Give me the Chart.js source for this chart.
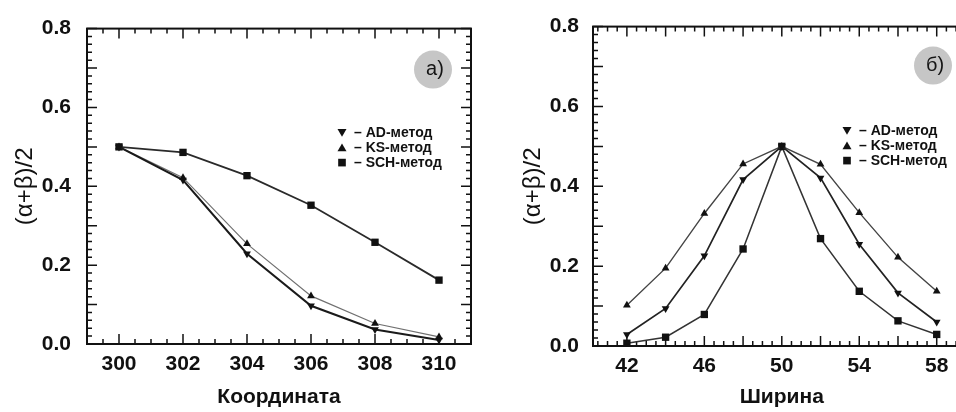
<!DOCTYPE html>
<html>
<head>
  <title>Сравнение методов</title>
  <script src="https://cdn.jsdelivr.net/npm/chart.js"></script>
  <style>
    html, body { margin: 0; padding: 0; background: #fff; overflow: hidden; }
    body { width: 956px; height: 412px; position: relative; }
    #chartA { position: absolute; left: 0; top: 0; }
    #chartB { position: absolute; left: 480px; top: 0; }
  </style>
</head>
<body>
  <canvas id="chartA" width="480" height="412"></canvas>
  <canvas id="chartB" width="500" height="412"></canvas>

  <script>
    // panel a) - Координата
    var coordX = [300, 302, 304, 306, 308, 310];
    var coordAD = [0.50, 0.416, 0.229, 0.097, 0.037, 0.010];
    var coordKS = [0.50, 0.422, 0.254, 0.122, 0.052, 0.018];
    var coordSCH = [0.50, 0.486, 0.427, 0.352, 0.258, 0.162];
    var coordTicks = [300, 302, 304, 306, 308, 310];

    // panel б) - Ширина
    var widthX = [42, 44, 46, 48, 50, 52, 54, 56, 58];
    var widthAD = [0.029, 0.094, 0.226, 0.417, 0.50, 0.421, 0.255, 0.133, 0.060];
    var widthKS = [0.102, 0.195, 0.332, 0.456, 0.50, 0.455, 0.334, 0.222, 0.137];
    var widthSCH = [0.007, 0.022, 0.079, 0.243, 0.50, 0.269, 0.137, 0.063, 0.029];
    var widthTicks = [42, 46, 50, 54, 58];

    var yTicks = [0, 0.2, 0.4, 0.6, 0.8];
    var methodNames = ['AD-метод', 'KS-метод', 'SCH-метод'];

    var FONT = "'Liberation Sans', Arial, sans-serif";

    function drawMarker(ctx, style, x, y, r) {
      ctx.beginPath();
      if (style === 'down') {
        ctx.moveTo(x - r, y - r * 0.8);
        ctx.lineTo(x + r, y - r * 0.8);
        ctx.lineTo(x, y + r * 0.9);
      } else if (style === 'up') {
        ctx.moveTo(x - r, y + r * 0.8);
        ctx.lineTo(x + r, y + r * 0.8);
        ctx.lineTo(x, y - r * 0.9);
      } else {
        ctx.rect(x - r * 0.85, y - r * 0.85, r * 1.7, r * 1.7);
      }
      ctx.closePath();
      ctx.fill();
    }

    var framePlugin = {
      id: 'frame',
      beforeDatasetsDraw: function(chart, args, opts) {
        var ctx = chart.ctx, a = chart.chartArea;
        var x = chart.scales.x, y = chart.scales.y;
        ctx.save();
        ctx.strokeStyle = '#111';
        ctx.lineWidth = 1.5;
        ctx.beginPath();
        for (var k = Math.ceil(x.min / opts.xMinor); k * opts.xMinor <= x.max + 1e-9; k++) {
          var v = k * opts.xMinor;
          var q = v / opts.xMajor;
          var len = Math.abs(q - Math.round(q)) < 1e-6 ? 10 : 5;
          var px = x.getPixelForValue(v);
          ctx.moveTo(px, a.bottom); ctx.lineTo(px, a.bottom - len);
          ctx.moveTo(px, a.top); ctx.lineTo(px, a.top + len);
        }
        for (var j = 0; j <= 40; j++) {
          var ylen = j % 5 === 0 ? 10 : 5;
          var py = y.getPixelForValue(j * 0.02);
          ctx.moveTo(a.left, py); ctx.lineTo(a.left + ylen, py);
          ctx.moveTo(a.right, py); ctx.lineTo(a.right - ylen, py);
        }
        ctx.stroke();
        ctx.lineWidth = 2;
        ctx.strokeRect(a.left, a.top, a.right - a.left, a.bottom - a.top);
        ctx.restore();
      },
      afterDatasetsDraw: function(chart, args, opts) {
        var ctx = chart.ctx, a = chart.chartArea;
        ctx.save();
        // badge
        ctx.fillStyle = '#c6c6c6';
        ctx.beginPath();
        ctx.arc(a.left + opts.badgeX, a.top + opts.badgeY, 19, 0, Math.PI * 2);
        ctx.fill();
        ctx.fillStyle = '#151515';
        ctx.font = '20px ' + FONT;
        ctx.textAlign = 'center';
        ctx.textBaseline = 'middle';
        ctx.fillText(opts.badge, a.left + opts.badgeX + 2, a.top + opts.badgeY);
        // legend
        var styles = ['down', 'up', 'rect'];
        ctx.font = 'bold 14px ' + FONT;
        ctx.textAlign = 'left';
        for (var i = 0; i < methodNames.length; i++) {
          var lx = a.left + opts.legendX;
          var ly = a.top + opts.legendY + i * 15;
          ctx.fillStyle = '#111';
          drawMarker(ctx, styles[i], lx, ly, 4.5);
          ctx.fillText('\u2013 ' + methodNames[i], lx + 12, ly + 1);
        }
        ctx.restore();
      }
    };

    function makeDatasets(xs, ad, ks, sch, colors, widths) {
      function pts(vals) {
        return vals.map(function(v, i) { return { x: xs[i], y: v }; });
      }
      var base = { showLine: true, clip: false, tension: 0 };
      return [
        Object.assign({}, base, {
          label: methodNames[0], data: pts(ad),
          borderColor: colors[0], borderWidth: widths[0],
          pointStyle: 'triangle', rotation: 180, pointRadius: 4.5,
          pointBackgroundColor: '#111', pointBorderColor: '#111', pointBorderWidth: 0
        }),
        Object.assign({}, base, {
          label: methodNames[1], data: pts(ks),
          borderColor: colors[1], borderWidth: widths[1],
          pointStyle: 'triangle', pointRadius: 4.5,
          pointBackgroundColor: '#111', pointBorderColor: '#111', pointBorderWidth: 0
        }),
        Object.assign({}, base, {
          label: methodNames[2], data: pts(sch),
          borderColor: colors[2], borderWidth: widths[2],
          pointStyle: 'rect', pointRadius: 5.2,
          pointBackgroundColor: '#111', pointBorderColor: '#111', pointBorderWidth: 0
        })
      ];
    }

    function makeOptions(cfg) {
      return {
        responsive: false,
        animation: false,
        events: [],
        layout: { padding: { top: 24, right: cfg.padRight, left: 0, bottom: 0 } },
        plugins: {
          legend: { display: false },
          tooltip: { enabled: false },
          frame: cfg.frame
        },
        scales: {
          x: {
            type: 'linear',
            min: cfg.xMin, max: cfg.xMax,
            grid: { display: false, drawTicks: false },
            border: { display: false },
            afterBuildTicks: function(s) { s.ticks = cfg.xTicks.map(function(v) { return { value: v }; }); },
            afterFit: function(s) { s.height = cfg.xHeight; },
            ticks: {
              padding: 8,
              color: '#111',
              font: { family: FONT, size: 21, weight: 'bold' },
              callback: function(v) { return v; }
            },
            title: {
              display: true, text: cfg.xTitle, color: '#111',
              font: { family: FONT, size: 21, weight: 'bold' },
              padding: { top: 0, bottom: 2 }
            }
          },
          y: {
            type: 'linear',
            min: 0, max: 0.8,
            grid: { display: false, drawTicks: false },
            border: { display: false },
            afterBuildTicks: function(s) { s.ticks = yTicks.map(function(v) { return { value: v }; }); },
            afterFit: function(s) { s.width = cfg.yWidth; },
            ticks: {
              padding: cfg.yPad,
              color: '#111',
              font: { family: FONT, size: 21, weight: 'bold' },
              callback: function(v) { return v.toFixed(1); }
            },
            title: {
              display: true, text: '(\u03b1+\u03b2)/2', color: '#111',
              font: { family: FONT, size: 24 },
              padding: { top: cfg.yTitlePad, bottom: 0 }
            }
          }
        }
      };
    }

    var chartA = new Chart(document.getElementById('chartA').getContext('2d'), {
      type: 'scatter',
      data: {
        datasets: makeDatasets(coordX, coordAD, coordKS, coordSCH,
          ['#1a1a1a', '#707070', '#2a2a2a'], [2, 1.2, 1.8])
      },
      options: makeOptions({
        xMin: 299, xMax: 311, xTicks: coordTicks, xTitle: 'Координата',
        padRight: 9, xHeight: 68, yWidth: 87, yPad: 16, yTitlePad: 11,
        frame: { xMinor: 0.5, xMajor: 2, badge: 'а)', badgeX: 346, badgeY: 41, legendX: 255, legendY: 104 }
      }),
      plugins: [framePlugin]
    });

    var chartB = new Chart(document.getElementById('chartB').getContext('2d'), {
      type: 'scatter',
      data: {
        datasets: makeDatasets(widthX, widthAD, widthKS, widthSCH,
          ['#222', '#444', '#333'], [1.7, 1.4, 1.5])
      },
      options: makeOptions({
        xMin: 40.25, xMax: 59.75, xTicks: widthTicks, xTitle: 'Ширина',
        padRight: 9.4, xHeight: 66, yWidth: 113, yPad: 14, yTitlePad: 39,
        frame: { xMinor: 0.5, xMajor: 2, badge: 'б)', badgeX: 340, badgeY: 39, legendX: 254, legendY: 104 }
      }),
      plugins: [framePlugin]
    });
  </script>
</body>
</html>
